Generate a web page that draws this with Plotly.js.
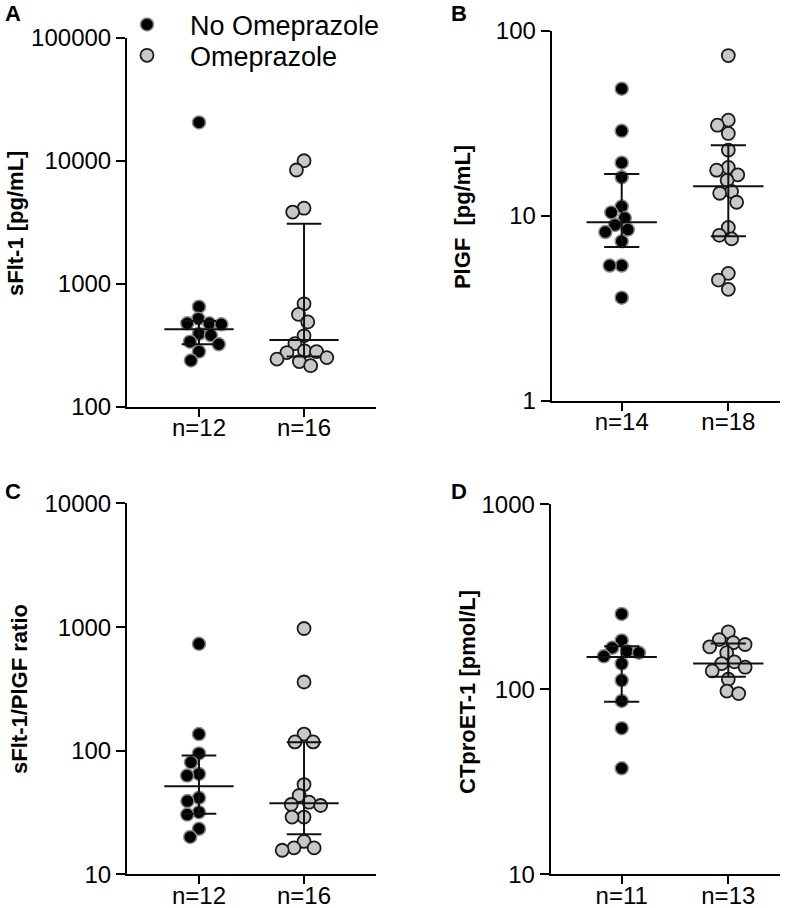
<!DOCTYPE html>
<html>
<head>
<meta charset="utf-8">
<script src="https://cdn.plot.ly/plotly-3.0.1.min.js"></script>
<style>
  body { margin: 0; background: #fff; }
  #chart { width: 800px; height: 908px; }
</style>
</head>
<body>
<div id="chart"></div>
<script>
// values (medians / IQR)
var groupNames = ['No Omeprazole', 'Omeprazole'];

// A: sFlt-1 [pg/mL]
var sfltNo = [20500, 649, 519, 475, 475, 467, 391, 380, 337, 321, 280, 237];
var sfltOme = [10000, 8410, 4110, 3820, 685, 562, 488, 376, 325, 284, 280, 275, 250, 243, 232, 215];
var sfltMed = [425, 348], sfltQ1 = [321, 255], sfltQ3 = [497, 3070];
var sfltTicks = ['n=12', 'n=16'];

// B: PlGF [pg/mL]
var plgfNo = [48.5, 28.7, 19.3, 16.1, 11.2, 10.4, 9.7, 8.9, 8.4, 8.15, 7.26, 5.37, 5.37, 3.6];
var plgfOme = [73.3, 32.8, 30.8, 27.8, 22.6, 18.2, 17.6, 16.6, 15.5, 13.5, 13.2, 11.8, 8.63, 7.82, 7.48, 4.87, 4.48, 3.99];
var plgfMed = [9.2, 14.4], plgfQ1 = [6.76, 7.73], plgfQ3 = [16.8, 24.0];
var plgfTicks = ['n=14', 'n=18'];

// C: sFlt-1/PlGF ratio
var ratioNo = [733, 136.5, 95.3, 80.7, 65.0, 63.0, 41.7, 39.2, 31.9, 30.5, 23.4, 20.1];
var ratioOme = [975, 360, 136.5, 118, 118, 53.3, 43.5, 38.4, 36.8, 36.1, 29.1, 29.1, 18.5, 16.4, 16.4, 15.7];
var ratioMed = [51.6, 37.7], ratioQ1 = [31.0, 21.1], ratioQ3 = [91.4, 117];
var ratioTicks = ['n=12', 'n=16'];

// D: CTproET-1 [pmol/L]
var ctNo = [256, 184, 168, 161, 158, 151, 138, 112, 86.7, 61.8, 37.5];
var ctOme = [205, 186, 179, 175, 170, 158, 141, 138, 132, 126, 113.6, 98, 95];
var ctMed = [150, 138], ctQ1 = [85.7, 117], ctQ3 = [171, 177];
var ctTicks = ['n=11', 'n=13'];

var W = 800, H = 908;
var FONT = 'Liberation Sans, Arial, Helvetica, sans-serif';

var panels = [
  {id: '', letter: 'A', title: 'sFlt-1 [pg/mL]', no: sfltNo, ome: sfltOme, med: sfltMed, q1: sfltQ1, q3: sfltQ3,
   ticks: sfltTicks, yvals: [100, 1000, 10000, 100000], yr: [2, 5],
   px: [127, 376], py: [34, 404.3], xr: [0.315, 2.685], tx: 15, ty: 221, lx: 13, ly: 10},
  {id: '2', letter: 'B', title: 'PlGF \u00a0[pg/mL]', no: plgfNo, ome: plgfOme, med: plgfMed, q1: plgfQ1, q3: plgfQ3,
   ticks: plgfTicks, yvals: [1, 10, 100], yr: [0, 2],
   px: [551.7, 780], py: [26.7, 398.3], xr: [0.343, 2.485], tx: 462, ty: 214, lx: 459, ly: 10},
  {id: '3', letter: 'C', title: 'sFlt-1/PlGF ratio', no: ratioNo, ome: ratioOme, med: ratioMed, q1: ratioQ1, q3: ratioQ3,
   ticks: ratioTicks, yvals: [10, 100, 1000, 10000], yr: [1, 4],
   px: [127, 376], py: [501.7, 874.3], xr: [0.315, 2.685], tx: 20, ty: 688, lx: 13, ly: 490},
  {id: '4', letter: 'D', title: 'CTproET-1 [pmol/L]', no: ctNo, ome: ctOme, med: ctMed, q1: ctQ1, q3: ctQ3,
   ticks: ctTicks, yvals: [10, 100, 1000], yr: [1, 3],
   px: [550.7, 780], py: [502.7, 874.3], xr: [0.334, 2.485], tx: 468, ty: 691, lx: 459, ly: 490}
];

// simple beeswarm in pixel space, returns x offsets in axis units
function swarm(vals, pxDec, pxUnit, diam) {
  var order = vals.map(function (v, i) { return i; }).sort(function (a, b) { return vals[b] - vals[a]; });
  var placed = [], off = [];
  order.forEach(function (i) {
    var y = Math.log10(vals[i]) * pxDec;
    var blocked = [];
    placed.forEach(function (p) {
      var dy = Math.abs(p.y - y);
      if (dy < diam) {
        var dx = Math.sqrt(diam * diam - dy * dy);
        blocked.push([p.x - dx, p.x + dx]);
      }
    });
    var cands = [0];
    blocked.forEach(function (b) { cands.push(b[0], b[1]); });
    cands.sort(function (a, b) { return Math.abs(a) - Math.abs(b); });
    var x = 0;
    for (var k = 0; k < cands.length; k++) {
      var c = cands[k];
      var hit = blocked.some(function (b) { return c > b[0] + 1e-6 && c < b[1] - 1e-6; });
      if (!hit) { x = c; break; }
    }
    placed.push({x: x, y: y});
    off[i] = x / pxUnit;
  });
  return off;
}

var blackDot = {color: '#000', size: 13, line: {color: '#8a8a8a', width: 1.5}};
var greyDot = {color: '#c8c8c8', size: 13, line: {color: '#1a1a1a', width: 1.8}};

var data = [];
var layout = {
  width: W, height: H,
  margin: {l: 0, r: 0, t: 0, b: 0},
  paper_bgcolor: '#fff', plot_bgcolor: '#fff',
  font: {family: FONT, color: '#000', size: 24},
  showlegend: true,
  legend: {x: 104 / W, y: 1 - 21 / H, xanchor: 'left', yanchor: 'middle',
           font: {size: 27, family: FONT}, itemwidth: 76, bgcolor: 'rgba(0,0,0,0)'},
  legend2: {x: 104 / W, y: 1 - 52 / H, xanchor: 'left', yanchor: 'middle',
            font: {size: 27, family: FONT}, itemwidth: 76, bgcolor: 'rgba(0,0,0,0)'},
  annotations: []
};

panels.forEach(function (p, pi) {
  var xa = 'x' + p.id, ya = 'y' + p.id;
  var pxUnit = (p.px[1] - p.px[0]) / (p.xr[1] - p.xr[0]);
  var pxDec = (p.py[1] - p.py[0]) / (p.yr[1] - p.yr[0]);

  [p.no, p.ome].forEach(function (vals, g) {
    var off = swarm(vals, pxDec, pxUnit, 12);
    data.push({
      type: 'scatter', mode: 'markers', xaxis: xa, yaxis: ya,
      name: groupNames[g], showlegend: pi === 0, legend: g === 0 ? 'legend' : 'legend2',
      x: vals.map(function (v, i) { return g + 1 + off[i]; }),
      y: vals,
      marker: g === 0 ? blackDot : greyDot,
      hoverinfo: 'y'
    });
  });

  // median with interquartile range
  [0, 1].forEach(function (g) {
    var c = g + 1, mw = 0.33, cw = 0.165;
    data.push({
      type: 'scatter', mode: 'lines', xaxis: xa, yaxis: ya, showlegend: false, hoverinfo: 'skip',
      x: [c - mw, c + mw, null, c, c, null, c - cw, c + cw, null, c - cw, c + cw],
      y: [p.med[g], p.med[g], null, p.q1[g], p.q3[g], null, p.q3[g], p.q3[g], null, p.q1[g], p.q1[g]],
      line: {color: '#111', width: 2}
    });
  });

  var axLine = {showline: true, linecolor: '#000', linewidth: 2, ticks: 'outside', ticklen: 9,
                tickwidth: 2, tickcolor: '#000', showgrid: false, zeroline: false, fixedrange: true};
  layout['xaxis' + p.id] = Object.assign({}, axLine, {
    domain: [p.px[0] / W, p.px[1] / W], anchor: ya, range: p.xr, ticklen: 8, ticklabelstandoff: -9,
    tickvals: [1, 2], ticktext: p.ticks, tickfont: {size: 24, family: FONT}
  });
  layout['yaxis' + p.id] = Object.assign({}, axLine, {
    domain: [1 - p.py[1] / H, 1 - p.py[0] / H], anchor: xa, type: 'log', range: p.yr,
    tickvals: p.yvals, ticktext: p.yvals.map(String), tickfont: {size: 24, family: FONT}
  });

  layout.annotations.push({
    xref: 'paper', yref: 'paper', x: p.tx / W, y: 1 - p.ty / H, xanchor: 'center', yanchor: 'middle',
    text: '<b>' + p.title + '</b>', textangle: -90, showarrow: false, font: {size: 22, family: FONT}
  });
  layout.annotations.push({
    xref: 'paper', yref: 'paper', x: p.lx / W, y: 1 - p.ly / H, xanchor: 'center', yanchor: 'middle',
    text: '<b>' + p.letter + '</b>', showarrow: false, font: {size: 22, family: FONT}
  });
});

Plotly.newPlot('chart', data, layout, {staticPlot: true});
</script>
</body>
</html>
